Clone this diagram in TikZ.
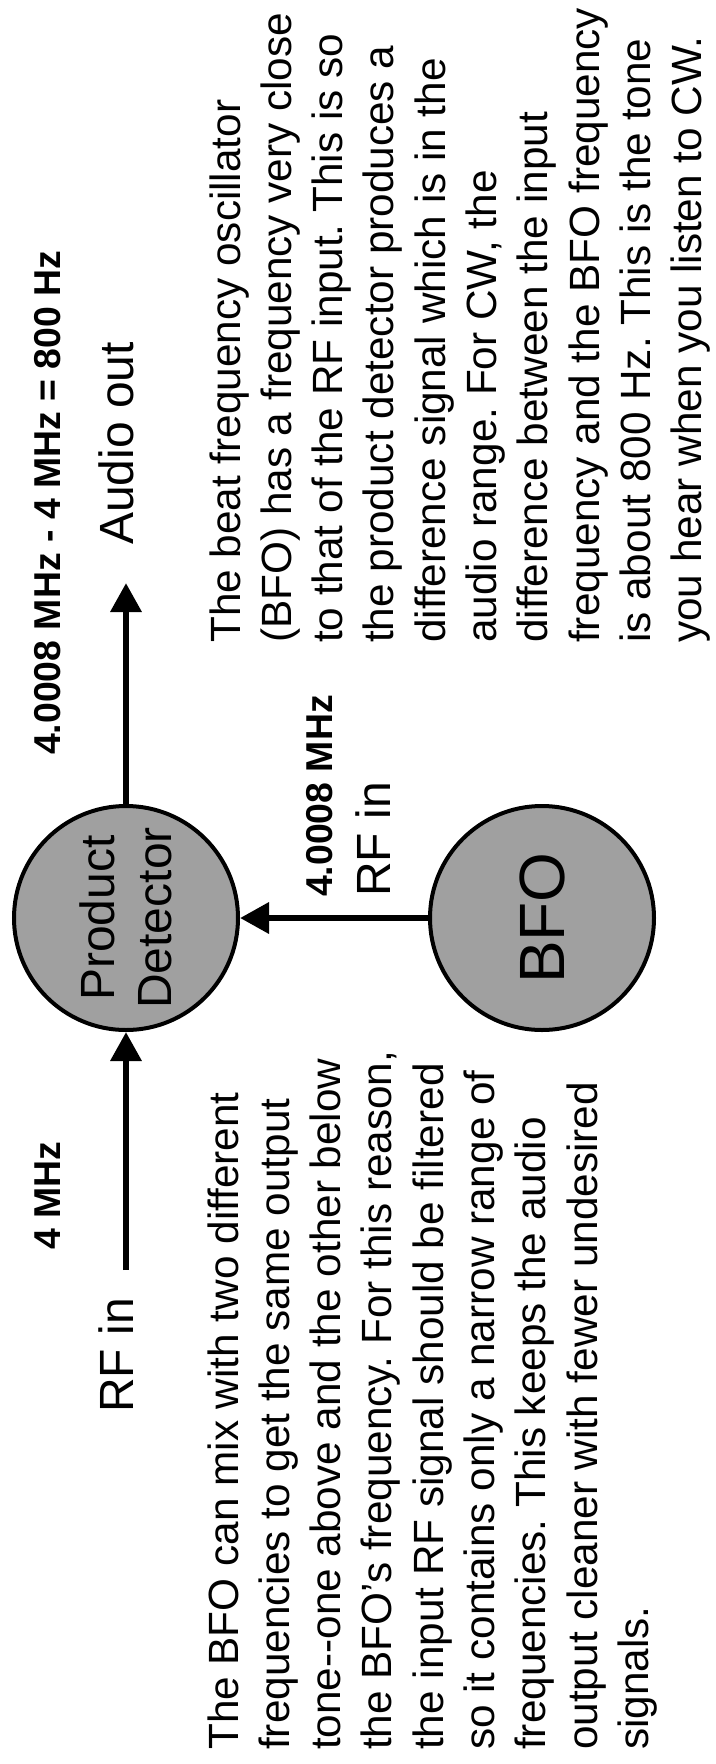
\documentclass[tikz,border=0pt]{standalone}
\usepackage{fontspec}
\setmainfont{Liberation Sans}
\usetikzlibrary{arrows.meta}
\definecolor{fillgray}{RGB}{160,160,160}
\frenchspacing
\begin{document}
\begin{tikzpicture}[x=1pt,y=-1pt,
  blob/.style={circle, draw=black, line width=4pt, fill=fillgray, minimum size=224pt, inner sep=0pt, rotate=90},
  conn/.style={line width=6.5pt, -{Triangle[length=29pt,width=30pt]}},
  body/.style={rotate=90, anchor=base west, align=left, inner sep=0pt, font=\fontsize{42.3pt}{51.3pt}\selectfont},
  lbl/.style={rotate=90, anchor=base west, inner sep=0pt, font=\fontsize{48pt}{57.6pt}\selectfont},
  freq/.style={rotate=90, anchor=base west, inner sep=0pt, font=\fontsize{37.4pt}{45pt}\selectfont\bfseries},
]
\fill[white] (0,0) rectangle (715,1764);
\useasboundingbox (0,0) rectangle (715,1764);

\node[blob, align=center, font=\fontsize{48pt}{57.6pt}\selectfont] (pd) at (126,918) {Product\\Detector};
\node[blob, font=\fontsize{64pt}{76.8pt}\selectfont] (bfo) at (542,918) {BFO};

\coordinate (rfsrc) at (126,1270);
\coordinate (audiotip) at (126,583);

\draw[conn] (rfsrc) -- (pd.west);
\draw[conn] (pd.east) -- (audiotip);
\draw[conn] (bfo.north) -- (pd.south);

\node[lbl] (audio) at (133,545) {Audio out};
\node[lbl] (rfin) at (133,1413) {RF in};
\node[lbl] (rfin2) at (390,897) {RF in};
\node[freq] (f1) at (60,755) {4.0008 MHz - 4 MHz = 800 Hz};
\node[freq] (f2) at (332,897) {4.0008 MHz};
\node[freq] (f3) at (60,1250) {4 MHz};

% base anchor of a multi-line node = baseline of its last line
\node[body] (rtext) at (701.7,643) {The beat frequency oscillator\\
(BFO) has a frequency very close\\
to that of the RF input. This is so\\
the product detector produces a\\
difference signal which is in the\\
audio range. For CW, the\\
difference between the input\\
frequency and the BFO frequency\\
is about 800 Hz. This is the tone\\
you hear when you listen to CW.};

\node[body] (ltext) at (648.4,1750) {The BFO can mix with two different\\
frequencies to get the same output\\
tone-{}-one above and the other below\\
the BFO’s frequency. For this reason,\\
the input RF signal should be filtered\\
so it contains only a narrow range of\\
frequencies. This keeps the audio\\
output cleaner with fewer undesired\\
signals.};
\end{tikzpicture}
\end{document}
